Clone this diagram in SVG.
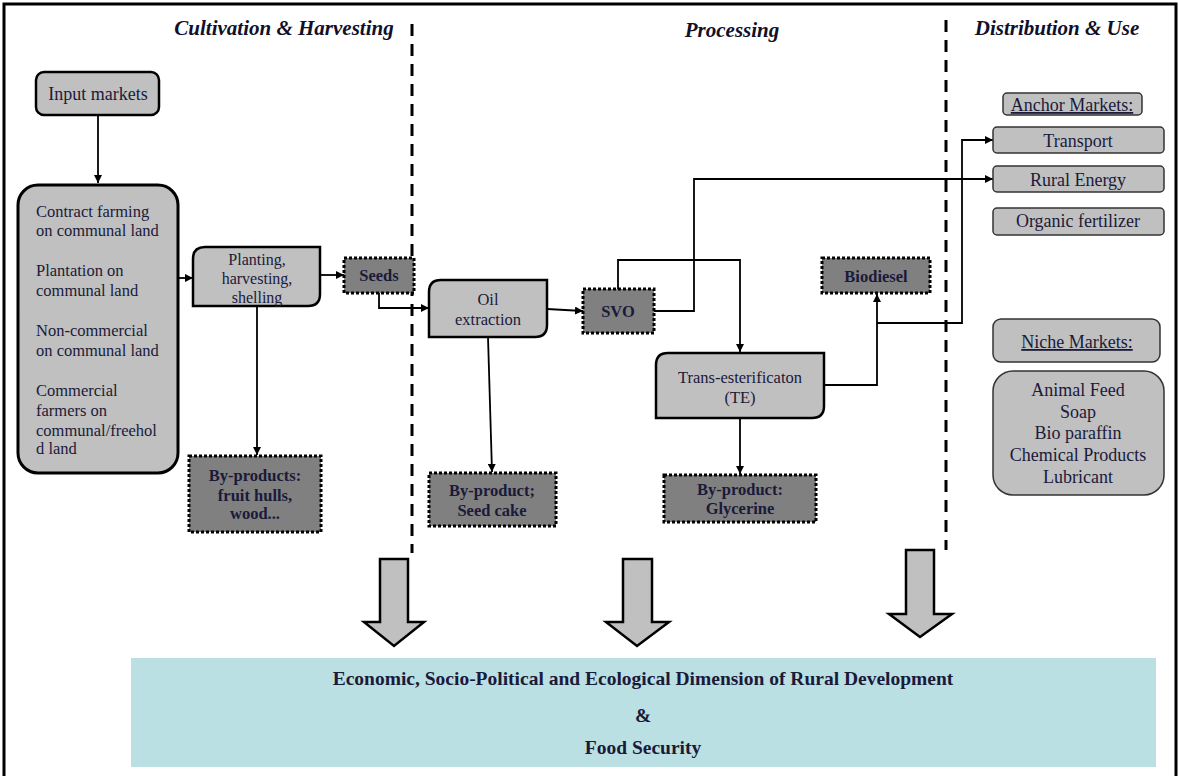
<svg xmlns="http://www.w3.org/2000/svg" width="1179" height="776" viewBox="0 0 1179 776" font-family="'Liberation Serif', 'Times New Roman', serif">
  <defs>
    <marker id="arr" viewBox="0 0 10 10" refX="10" refY="5" markerWidth="8" markerHeight="8" markerUnits="userSpaceOnUse" orient="auto">
      <path d="M0,0 L10,5 L0,10 Z" fill="#000"/>
    </marker>
    <style>
      .t { fill: #1a1a3a; }
      .s16 { font-size: 16.5px; }
      .s18 { font-size: 18px; }
      .c { text-anchor: middle; }
      .b { font-weight: bold; }
      .hdr { font-size: 21px; font-weight: bold; font-style: italic; fill: #10102a; text-anchor: middle; }
      .light { fill: #c0c0c0; stroke: #000; stroke-width: 2.5; }
      .thin { fill: #c0c0c0; stroke: #333; stroke-width: 1.5; }
      .dark { fill: #808080; stroke: #000; stroke-width: 3; stroke-dasharray: 3 2; }
      .conn { fill: none; stroke: #000; stroke-width: 1.8; }
      .div { fill: none; stroke: #000; stroke-width: 3; stroke-dasharray: 12 8; }
      .big { fill: #c0c0c0; stroke: #000; stroke-width: 3; }
    </style>
  </defs>

  <rect x="0" y="0" width="1179" height="776" fill="#fff"/>
  <!-- frame -->
  <path d="M4,776 V4 H1176 V776" fill="none" stroke="#000" stroke-width="3"/>

  <!-- stage headers -->
  <text class="hdr" x="284" y="35">Cultivation &amp; Harvesting</text>
  <text class="hdr" x="732" y="37">Processing</text>
  <text class="hdr" x="1057" y="35">Distribution &amp; Use</text>

  <!-- stage dividers -->
  <line class="div" x1="412" y1="24" x2="412" y2="553"/>
  <line class="div" x1="946" y1="20" x2="946" y2="550"/>

  <!-- connectors -->
  <g id="connectors">
    <line class="conn" x1="98" y1="115" x2="98" y2="183" marker-end="url(#arr)"/>
    <line class="conn" x1="178" y1="278" x2="193" y2="278" marker-end="url(#arr)"/>
    <line class="conn" x1="320" y1="275" x2="344" y2="275" marker-end="url(#arr)"/>
    <line class="conn" x1="257" y1="306" x2="257" y2="455" marker-end="url(#arr)"/>
    <polyline class="conn" points="379,293 379,308 429,308" marker-end="url(#arr)"/>
    <line class="conn" x1="547" y1="309" x2="583" y2="311" marker-end="url(#arr)"/>
    <line class="conn" x1="488" y1="337" x2="492" y2="472" marker-end="url(#arr)"/>
    <polyline class="conn" points="618,289 618,260 740,260 740,352" marker-end="url(#arr)"/>
    <polyline class="conn" points="654,311 694,311 694,179 993,179" marker-end="url(#arr)"/>
    <line class="conn" x1="740" y1="418" x2="740" y2="474" marker-end="url(#arr)"/>
    <polyline class="conn" points="824,385 877,385 877,294" marker-end="url(#arr)"/>
    <polyline class="conn" points="877,323 962,323 962,140 993,140" marker-end="url(#arr)"/>
  </g>

  <g id="input-markets">
    <rect class="light" x="36" y="72" width="123" height="43" rx="8"/>
    <text class="t s18 c" x="98" y="100">Input markets</text>
  </g>

  <g id="farming-systems">
    <rect class="big" x="18" y="185" width="160" height="288" rx="20"/>
    <text class="t s16" x="36" y="217">Contract farming</text>
    <text class="t s16" x="36" y="236">on communal land</text>
    <text class="t s16" x="36" y="276">Plantation on</text>
    <text class="t s16" x="36" y="296">communal land</text>
    <text class="t s16" x="36" y="336">Non-commercial</text>
    <text class="t s16" x="36" y="356">on communal land</text>
    <text class="t s16" x="36" y="396">Commercial</text>
    <text class="t s16" x="36" y="416">farmers on</text>
    <text class="t s16" x="36" y="436">communal/freehol</text>
    <text class="t s16" x="36" y="454">d land</text>
  </g>

  <g id="planting">
    <path class="light" d="M205,247 H320 V294 Q320,306 308,306 H193 V259 Q193,247 205,247 Z"/>
    <text class="t c" x="257" y="265" font-size="16">Planting,</text>
    <text class="t c" x="257" y="284" font-size="16">harvesting,</text>
    <text class="t c" x="257" y="303" font-size="16">shelling</text>
  </g>

  <g id="seeds">
    <rect class="dark" x="344" y="258" width="70" height="35"/>
    <text class="t s16 c b" x="379" y="281">Seeds</text>
  </g>

  <g id="byproducts-hulls">
    <rect class="dark" x="189" y="456" width="132" height="76"/>
    <text class="t s16 c b" x="255" y="481">By-products:</text>
    <text class="t s16 c b" x="255" y="501">fruit hulls,</text>
    <text class="t s16 c b" x="255" y="519">wood...</text>
  </g>

  <g id="oil-extraction">
    <path class="light" d="M441,280 H547 V325 Q547,337 535,337 H429 V292 Q429,280 441,280 Z"/>
    <text class="t s16 c" x="488" y="305">Oil</text>
    <text class="t s16 c" x="488" y="325">extraction</text>
  </g>

  <g id="svo">
    <rect class="dark" x="583" y="289" width="71" height="44"/>
    <text class="t s16 c b" x="618" y="317">SVO</text>
  </g>

  <g id="seed-cake">
    <rect class="dark" x="429" y="473" width="127" height="53"/>
    <text class="t s16 c b" x="492" y="496">By-product;</text>
    <text class="t s16 c b" x="492" y="516">Seed cake</text>
  </g>

  <g id="trans-esterification">
    <path class="light" d="M668,353 H824 V406 Q824,418 812,418 H656 V365 Q656,353 668,353 Z"/>
    <text class="t s16 c" x="740" y="383">Trans-esterificaton</text>
    <text class="t s16 c" x="740" y="403">(TE)</text>
  </g>

  <g id="glycerine">
    <rect class="dark" x="664" y="475" width="152" height="47"/>
    <text class="t s16 c b" x="740" y="495">By-product:</text>
    <text class="t s16 c b" x="740" y="514">Glycerine</text>
  </g>

  <g id="biodiesel">
    <rect class="dark" x="822" y="258" width="108" height="35"/>
    <text class="t s16 c b" x="876" y="282">Biodiesel</text>
  </g>

  <g id="anchor-markets">
    <rect class="thin" x="1003" y="93" width="139" height="22" rx="4"/>
    <text class="t s18 c" x="1072" y="111" text-decoration="underline">Anchor Markets:</text>
  </g>
  <g id="transport">
    <rect class="thin" x="993" y="127" width="171" height="26" rx="4"/>
    <text class="t s18 c" x="1078" y="147">Transport</text>
  </g>
  <g id="rural-energy">
    <rect class="thin" x="993" y="166" width="171" height="26" rx="4"/>
    <text class="t s18 c" x="1078" y="186">Rural Energy</text>
  </g>
  <g id="organic-fertilizer">
    <rect class="thin" x="993" y="208" width="171" height="27" rx="4"/>
    <text class="t s18 c" x="1078" y="227">Organic fertilizer</text>
  </g>

  <g id="niche-markets">
    <rect class="thin" x="993" y="319" width="167" height="43" rx="8"/>
    <text class="t s18 c" x="1077" y="348" text-decoration="underline">Niche Markets:</text>
  </g>
  <g id="niche-products">
    <rect class="thin" x="993" y="371" width="171" height="124" rx="20"/>
    <text class="t s18 c" x="1078" y="396">Animal Feed</text>
    <text class="t s18 c" x="1078" y="418">Soap</text>
    <text class="t s18 c" x="1078" y="439">Bio paraffin</text>
    <text class="t s18 c" x="1078" y="461">Chemical Products</text>
    <text class="t s18 c" x="1078" y="483">Lubricant</text>
  </g>

  <!-- block arrows into the outcome band -->
  <g id="block-arrows" fill="#c0c0c0" stroke="#000" stroke-width="2.5" stroke-linejoin="miter">
    <path d="M380,559 H408 V622 H424 L394,646 L364,622 H380 Z"/>
    <path d="M623,559 H652 V622 H669 L637,646 L606,622 H623 Z"/>
    <path d="M906,550 H934 V614 H952 L920,637 L889,614 H906 Z"/>
  </g>

  <g id="outcome">
    <rect x="131" y="658" width="1025" height="109" fill="#bbe0e3"/>
    <text class="t c b" x="643" y="685" font-size="19.5">Economic, Socio-Political and Ecological Dimension of Rural Development</text>
    <text class="t c b" x="643" y="722" font-size="19.5">&amp;</text>
    <text class="t c b" x="643" y="754" font-size="19.5">Food Security</text>
  </g>
</svg>
